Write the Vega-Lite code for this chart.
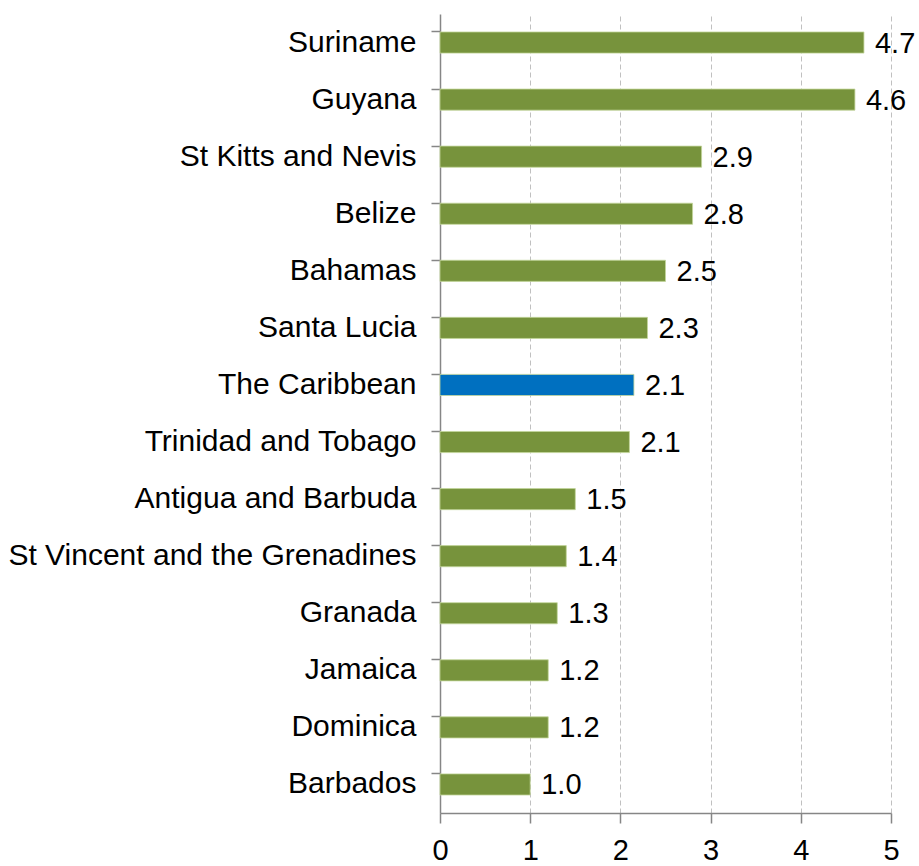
{
  "$schema": "https://vega.github.io/schema/vega-lite/v6.json",
  "autosize": {"type": "none"},
  "padding": {"left": 440, "top": 14, "right": 28, "bottom": 53},
  "width": 451,
  "height": 799,
  "background": "white",
  "config": {
    "font": "Liberation Sans",
    "view": {"stroke": null}
  },
  "data": {
    "values": [
      {"country": "Suriname", "value": 4.7, "group": "country"},
      {"country": "Guyana", "value": 4.6, "group": "country"},
      {"country": "St Kitts and Nevis", "value": 2.9, "group": "country"},
      {"country": "Belize", "value": 2.8, "group": "country"},
      {"country": "Bahamas", "value": 2.5, "group": "country"},
      {"country": "Santa Lucia", "value": 2.3, "group": "country"},
      {"country": "The Caribbean", "value": 2.15, "group": "region"},
      {"country": "Trinidad and Tobago", "value": 2.1, "group": "country"},
      {"country": "Antigua and Barbuda", "value": 1.5, "group": "country"},
      {"country": "St Vincent and the Grenadines", "value": 1.4, "group": "country"},
      {"country": "Granada", "value": 1.3, "group": "country"},
      {"country": "Jamaica", "value": 1.2, "group": "country"},
      {"country": "Dominica", "value": 1.2, "group": "country"},
      {"country": "Barbados", "value": 1.0, "group": "country"}
    ]
  },
  "encoding": {
    "y": {
      "field": "country",
      "type": "nominal",
      "sort": null,
      "scale": {"paddingInner": 0.63, "paddingOuter": 0.315},
      "axis": {
        "title": null,
        "bandPosition": 0,
        "domainColor": "#868686",
        "domainWidth": 1.5,
        "tickColor": "#868686",
        "tickWidth": 1.5,
        "tickSize": 9,
        "labelPadding": 15,
        "labelFontSize": 30,
        "labelColor": "#000000",
        "labelLimit": 500,
        "grid": false
      }
    },
    "x": {
      "field": "value",
      "type": "quantitative",
      "scale": {"domain": [0, 5], "nice": false},
      "axis": {
        "title": null,
        "values": [0, 1, 2, 3, 4, 5],
        "format": "d",
        "labelFlush": false,
        "domainColor": "#868686",
        "domainWidth": 1.5,
        "tickColor": "#868686",
        "tickWidth": 1.5,
        "tickSize": 10,
        "labelPadding": 13,
        "labelFontSize": 29,
        "labelColor": "#000000",
        "grid": true,
        "gridColor": "#C0C0C0",
        "gridDash": [5, 3],
        "gridWidth": 1
      }
    }
  },
  "layer": [
    {
      "mark": {"type": "bar", "stroke": "#C3D69B", "strokeWidth": 0.8},
      "encoding": {
        "color": {
          "field": "group",
          "type": "nominal",
          "scale": {"domain": ["country", "region"], "range": ["#77933C", "#0070C0"]},
          "legend": null
        }
      }
    },
    {
      "mark": {"type": "text", "align": "left", "baseline": "middle", "dx": 11, "dy": 1, "fontSize": 29, "color": "#000000"},
      "encoding": {
        "text": {"field": "value", "type": "quantitative", "format": ".1f"}
      }
    }
  ]
}
